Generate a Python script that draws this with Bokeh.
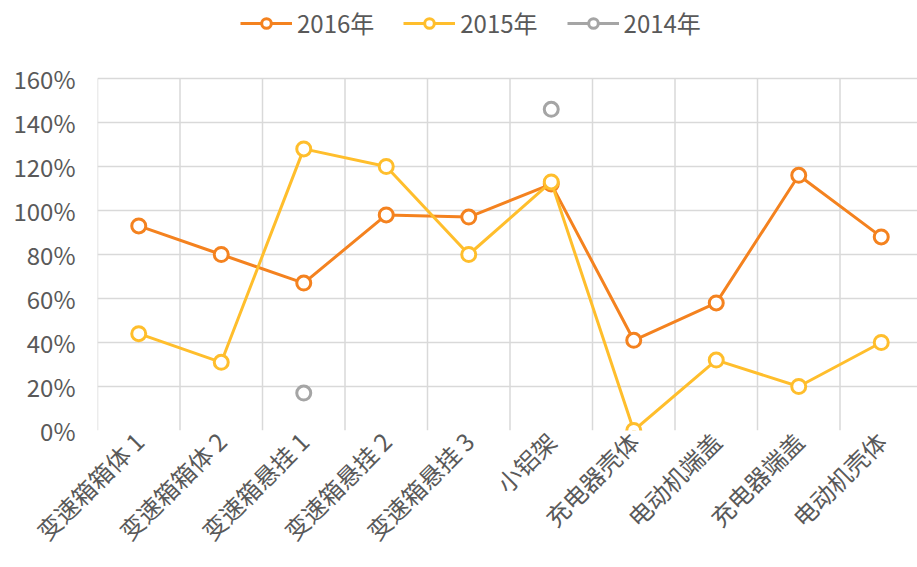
import math
import numpy as np
from bokeh.plotting import figure
from bokeh.models import FixedTicker, Legend, LegendItem, ColumnDataSource
from bokeh.embed import file_html
from bokeh.resources import INLINE

categories = ["变速箱箱体 1", "变速箱箱体 2", "变速箱悬挂 1", "变速箱悬挂 2", "变速箱悬挂 3",
              "小铝架", "充电器壳体", "电动机端盖", "充电器端盖", "电动机壳体"]
s2016 = [93, 80, 67, 98, 97, 112, 41, 58, 116, 88]
s2015 = [44, 31, 128, 120, 80, 113, 0, 32, 20, 40]
s2014 = [np.nan, np.nan, 17, np.nan, np.nan, 146, np.nan, np.nan, np.nan, np.nan]
series_names = ["2016年", "2015年", "2014年"]
colors = ["#F4821F", "#FFBE2C", "#A5A5A5"]
y_ticks = [0, 20, 40, 60, 80, 100, 120, 140, 160]

FONT = "Noto Sans CJK SC"
W, H = 917, 567
LEFT, BOTTOM_Y = 97, 430          # frame left edge and y of 0% line (page px)
PX_PER_UNIT = 2.2                  # px per 1%
CAT_W = 82.5
FW = W - LEFT
GRID = "#D9D9D9"

xpos = [i + 0.5 for i in range(len(categories))]
y_top = BOTTOM_Y / PX_PER_UNIT     # frame spans to the top so the legend fits inside

p = figure(width=W, height=H, output_backend="svg", toolbar_location=None,
           x_range=(0, FW / CAT_W), y_range=(0, y_top),
           min_border_left=LEFT, min_border_top=0, min_border_right=0,
           min_border_bottom=H - BOTTOM_Y)
p.outline_line_color = None
p.background_fill_color = "white"
p.border_fill_color = "white"

# vertical category separators (only across the value band)
bounds = list(range(len(categories) + 1))
p.segment(x0=bounds, y0=[y_ticks[0]] * len(bounds), x1=bounds, y1=[y_ticks[-1]] * len(bounds),
          line_color=GRID, line_width=1.5)

items = []
for name, vals, col in zip(series_names, [s2016, s2015, s2014], colors):
    src = ColumnDataSource(dict(x=xpos, y=vals))
    r1 = p.line("x", "y", source=src, line_color=col, line_width=3)
    r2 = p.scatter("x", "y", source=src, size=14, marker="circle", fill_color="white",
                   line_color=col, line_width=3)
    items.append(LegendItem(label=name, renderers=[r1, r2]))

# axes
p.xaxis.ticker = FixedTicker(ticks=xpos)
p.xaxis.major_label_overrides = {x: c for x, c in zip(xpos, categories)}
p.xaxis.major_label_orientation = math.pi / 4
p.xaxis.major_label_standoff = 6
p.yaxis.ticker = FixedTicker(ticks=y_ticks)
p.yaxis.major_label_overrides = {t: f"{t}%" for t in y_ticks}
p.yaxis.major_label_standoff = 22
for ax in (p.xaxis[0], p.yaxis[0]):
    ax.axis_line_color = None
    ax.major_tick_line_color = None
    ax.minor_tick_line_color = None
    ax.major_tick_out = 0
    ax.major_tick_in = 0
    ax.major_label_text_font = FONT
    ax.major_label_text_font_size = "24px"
    ax.major_label_text_color = "#595959"

p.xgrid.grid_line_color = None
p.ygrid.ticker = FixedTicker(ticks=y_ticks)
p.ygrid.grid_line_color = GRID
p.ygrid.grid_line_width = 1.5

legend = Legend(items=items, orientation="horizontal", location=(143, 390),
                label_text_font=FONT, label_text_font_size="24px",
                label_text_color="#595959", glyph_width=52, glyph_height=24,
                label_standoff=5, spacing=29, padding=0, margin=0,
                border_line_color=None, background_fill_alpha=0)
p.add_layout(legend, "center")

open("out.html", "w").write(file_html(p, INLINE))
